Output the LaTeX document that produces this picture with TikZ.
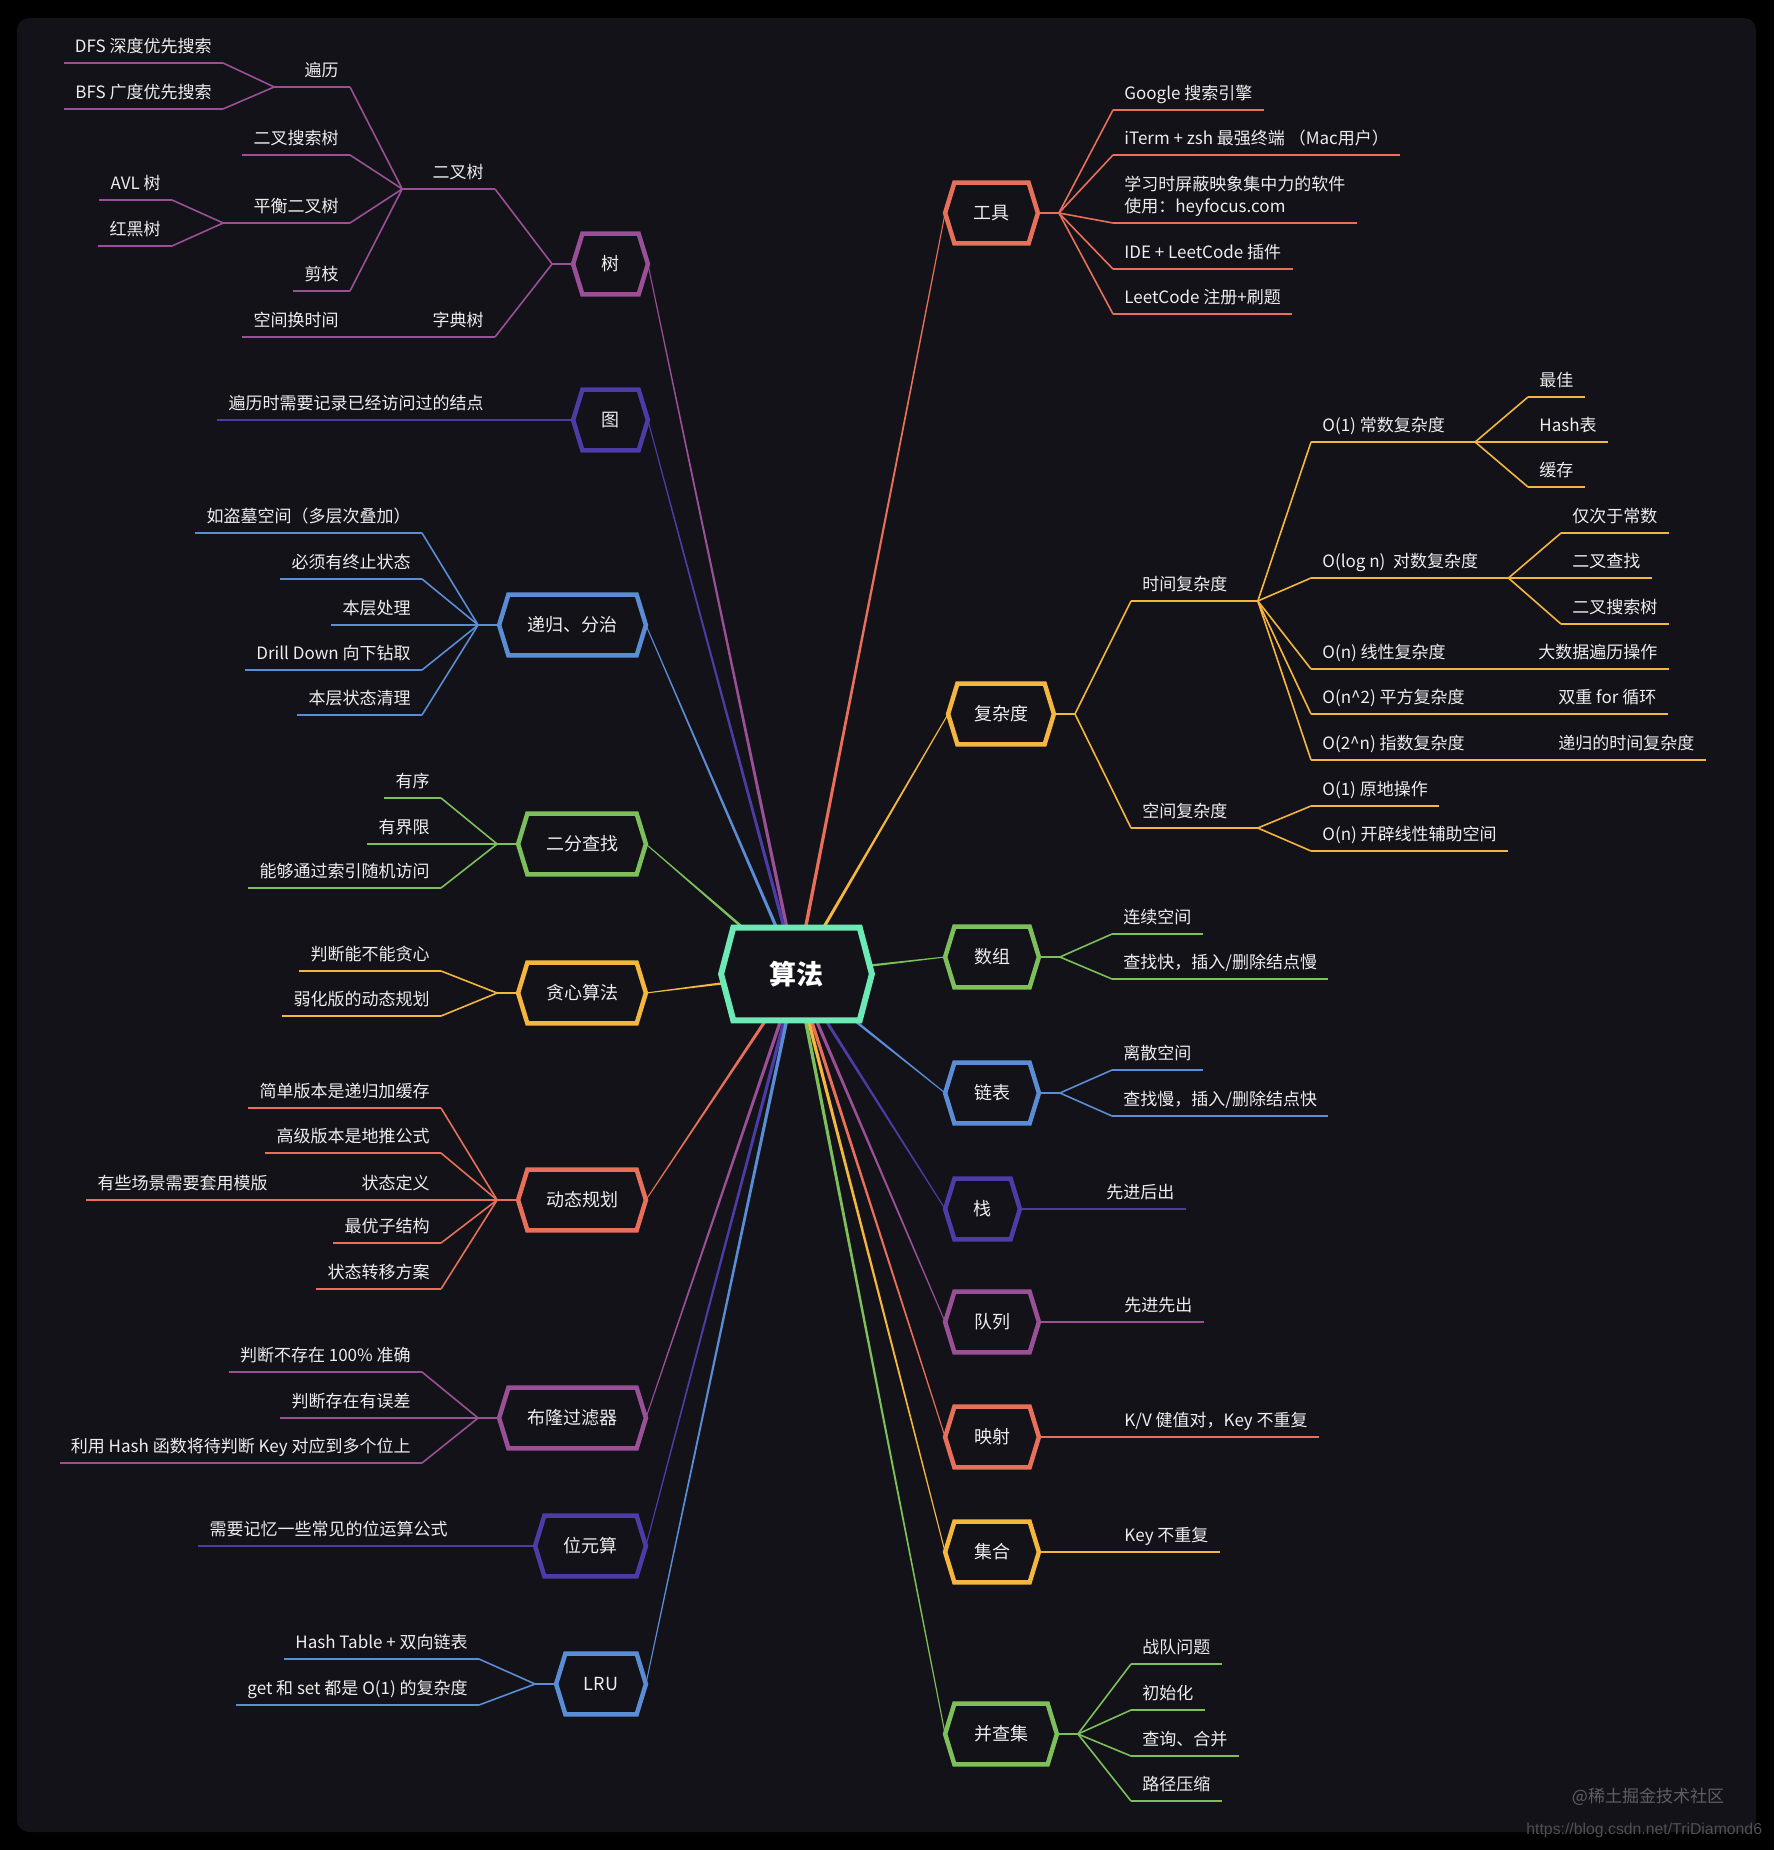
\documentclass[tikz,border=0pt]{standalone}
\usepackage{fontspec}
\setmainfont{Noto Sans CJK SC}
\newfontfamily\urlfont{Liberation Sans}
\usetikzlibrary{calc}
\pgfdeclarelayer{back}
\pgfdeclarelayer{bg}
\pgfdeclarelayer{mid}
\pgfsetlayers{back,bg,mid,main}
\definecolor{panel}{HTML}{131219}
\definecolor{cCoral}{HTML}{E8705A}
\definecolor{cYellow}{HTML}{F4B63F}
\definecolor{cGreen}{HTML}{7DC05B}
\definecolor{cBlue}{HTML}{5A8DD6}
\definecolor{cIndigo}{HTML}{4C3DA6}
\definecolor{cPurple}{HTML}{9A5097}
\definecolor{cMint}{HTML}{6DE9B6}
\definecolor{txtc}{HTML}{EDEDED}
\definecolor{wmc}{HTML}{5E5E66}
\definecolor{urlc}{HTML}{505050}
\tikzset{
  lbl/.style={font=\fontsize{8.5pt}{11pt}\selectfont, text=txtc, inner xsep=5.5pt, inner ysep=5.25pt, text height=6.5pt, text depth=0pt},
  hexlbl/.style={font=\fontsize{9pt}{11pt}\selectfont, text=txtc, inner sep=0pt, minimum height=30pt},
  ul/.style={line width=0.8pt},
}
\newcommand\labL[5]{\node[lbl,anchor=south east] (#1) at (#2,#3) {#5};\draw[#4,ul] (#1.south west) -- (#1.south east);}
\newcommand\labR[5]{\node[lbl,anchor=south west] (#1) at (#2,#3) {#5};\draw[#4,ul] (#1.south west) -- (#1.south east);}
\newcommand\hexn[6]{%
  \node[hexlbl, minimum width={(#4-2.5)*1pt}] (#1) at (#2,#3) {#6};
  \begin{pgfonlayer}{mid}
  \draw[#5, line width=2.25pt, fill=panel] (#1.west) -- ([xshift=4.65pt]#1.north west) -- ([xshift=-4.65pt]#1.north east) -- (#1.east) -- ([xshift=-4.65pt]#1.south east) -- ([xshift=4.65pt]#1.south west) -- cycle;
  \end{pgfonlayer}}
\newcommand\hL[3]{\begin{pgfonlayer}{bg}\draw[#1,ul] (#2.west) -- ++(-10.5pt,0) -- (#3.south east);\end{pgfonlayer}}
\newcommand\hR[3]{\begin{pgfonlayer}{bg}\draw[#1,ul] (#2.east) -- ++(10.5pt,0) -- (#3.south west);\end{pgfonlayer}}
\newcommand\cL[3]{\begin{pgfonlayer}{bg}\draw[#1,ul] (#2.south west) -- ++(-9.5pt,0) -- (#3.south east);\end{pgfonlayer}}
\newcommand\cR[3]{\begin{pgfonlayer}{bg}\draw[#1,ul] (#2.south east) -- ++(9.5pt,0) -- (#3.south west);\end{pgfonlayer}}
\newcommand\sL[3]{\begin{pgfonlayer}{bg}\draw[#1,ul] (#2.south west) -- (#3.south east);\end{pgfonlayer}}
\newcommand\sR[3]{\begin{pgfonlayer}{bg}\draw[#1,ul] (#2.south east) -- (#3.south west);\end{pgfonlayer}}
\newcommand\hsL[3]{\begin{pgfonlayer}{bg}\draw[#1,ul] (#2.west) -- (#3.south east);\end{pgfonlayer}}
\newcommand\hsR[3]{\begin{pgfonlayer}{bg}\draw[#1,ul] (#2.east) -- (#3.south west);\end{pgfonlayer}}
\newcommand\tp[2]{\begin{pgfonlayer}{bg}\fill[#1] ($(alg.center)!0.9pt!90:(#2)$) -- ($(#2)!0.25pt!-90:(alg.center)$) -- ($(#2)!0.25pt!90:(alg.center)$) -- ($(alg.center)!0.9pt!-90:(#2)$) -- cycle;\end{pgfonlayer}}
\begin{document}
\begin{tikzpicture}[x=0.5pt,y=-0.5pt]
\useasboundingbox (0,0) rectangle (1774,1850);
\begin{pgfonlayer}{back}
\fill[black] (0,0) rectangle (1774,1850);
\fill[panel, rounded corners=6pt] (17,18) rectangle (1756,1832);
\end{pgfonlayer}

% central node
\node[font=\fontsize{13.5pt}{16pt}\selectfont\bfseries, text=white, inner sep=0pt, minimum width=75pt, minimum height=46pt] (alg) at (796.5,974) {算法};
\begin{pgfonlayer}{mid}
\draw[cMint, line width=3pt, fill=panel] (alg.west) -- ([xshift=6.1pt]alg.north west) -- ([xshift=-6.1pt]alg.north east) -- (alg.east) -- ([xshift=-6.1pt]alg.south east) -- ([xshift=6.1pt]alg.south west) -- cycle;
\end{pgfonlayer}

% ---------- right side main nodes ----------
\hexn{tools}{991.5}{213}{48.5}{cCoral}{工具}
\hexn{cplx}{1001}{714}{55}{cYellow}{复杂度}
\hexn{arr}{992}{957}{49}{cGreen}{数组}
\hexn{ll}{992}{1093}{49}{cBlue}{链表}
\hexn{stk}{982.5}{1209}{39.5}{cIndigo}{栈}
\hexn{que}{992}{1322}{49}{cPurple}{队列}
\hexn{map}{992}{1437}{49}{cCoral}{映射}
\hexn{set}{992}{1552}{49}{cYellow}{集合}
\hexn{uf}{1001}{1734}{58}{cGreen}{并查集}

% ---------- left side main nodes ----------
\hexn{tree}{610.5}{264}{39.5}{cPurple}{树}
\hexn{graph}{610.5}{420}{39.5}{cIndigo}{图}
\hexn{rec}{572.5}{625}{75.5}{cBlue}{递归、分治}
\hexn{bin}{582}{844}{66}{cGreen}{二分查找}
\hexn{greedy}{582}{993}{66}{cYellow}{贪心算法}
\hexn{dp}{582}{1200}{66}{cCoral}{动态规划}
\hexn{bloom}{572.5}{1418}{75.5}{cPurple}{布隆过滤器}
\hexn{bit}{590.5}{1546}{57.5}{cIndigo}{位元算}
\hexn{lru}{601}{1684}{47}{cBlue}{LRU}

% ---------- tapered main branches ----------
\tp{cCoral}{tools.west}
\tp{cYellow}{cplx.west}
\tp{cGreen}{arr.west}
\tp{cBlue}{ll.west}
\tp{cIndigo}{stk.west}
\tp{cPurple}{que.west}
\tp{cCoral}{map.west}
\tp{cYellow}{set.west}
\tp{cGreen}{uf.west}
\tp{cPurple}{tree.east}
\tp{cIndigo}{graph.east}
\tp{cBlue}{rec.east}
\tp{cGreen}{bin.east}
\tp{cYellow}{greedy.east}
\tp{cCoral}{dp.east}
\tp{cPurple}{bloom.east}
\tp{cIndigo}{bit.east}
\tp{cBlue}{lru.east}

% ---------- tree ----------
\labL{bt}{495}{189}{cPurple}{二叉树}
\labL{zd}{495}{337}{cPurple}{字典树}
\labL{bl}{350}{87}{cPurple}{遍历}
\labL{bst}{350}{155}{cPurple}{二叉搜索树}
\labL{phb}{350}{223}{cPurple}{平衡二叉树}
\labL{jz}{350}{291}{cPurple}{剪枝}
\labL{kj}{350}{337}{cPurple}{空间换时间}
\labL{dfs}{223}{63}{cPurple}{DFS 深度优先搜索}
\labL{bfs}{223}{109}{cPurple}{BFS 广度优先搜索}
\labL{avl}{172}{200}{cPurple}{AVL 树}
\labL{rb}{172}{246}{cPurple}{红黑树}
\hL{cPurple}{tree}{bt}
\hL{cPurple}{tree}{zd}
\cL{cPurple}{bt}{bl}
\cL{cPurple}{bt}{bst}
\cL{cPurple}{bt}{phb}
\cL{cPurple}{bt}{jz}
\sL{cPurple}{zd}{kj}
\cL{cPurple}{bl}{dfs}
\cL{cPurple}{bl}{bfs}
\cL{cPurple}{phb}{avl}
\cL{cPurple}{phb}{rb}

% ---------- graph ----------
\labL{gr1}{495}{420}{cIndigo}{遍历时需要记录已经访问过的结点}
\hsL{cIndigo}{graph}{gr1}

% ---------- recursion ----------
\labL{r1}{422}{533}{cBlue}{如盗墓空间（多层次叠加）}
\labL{r2}{422}{579}{cBlue}{必须有终止状态}
\labL{r3}{422}{625}{cBlue}{本层处理}
\labL{r4}{422}{670}{cBlue}{Drill Down 向下钻取}
\labL{r5}{422}{715}{cBlue}{本层状态清理}
\hL{cBlue}{rec}{r1}
\hL{cBlue}{rec}{r2}
\hL{cBlue}{rec}{r3}
\hL{cBlue}{rec}{r4}
\hL{cBlue}{rec}{r5}

% ---------- binary search ----------
\labL{b1}{441}{798}{cGreen}{有序}
\labL{b2}{441}{844}{cGreen}{有界限}
\labL{b3}{441}{888}{cGreen}{能够通过索引随机访问}
\hL{cGreen}{bin}{b1}
\hL{cGreen}{bin}{b2}
\hL{cGreen}{bin}{b3}

% ---------- greedy ----------
\labL{gd1}{441}{971}{cYellow}{判断能不能贪心}
\labL{gd2}{441}{1016}{cYellow}{弱化版的动态规划}
\hL{cYellow}{greedy}{gd1}
\hL{cYellow}{greedy}{gd2}

% ---------- dynamic programming ----------
\labL{dp1}{441}{1108}{cCoral}{简单版本是递归加缓存}
\labL{dp2}{441}{1153}{cCoral}{高级版本是地推公式}
\labL{dp3}{441}{1200}{cCoral}{状态定义}
\labL{dp4}{441}{1243}{cCoral}{最优子结构}
\labL{dp5}{441}{1289}{cCoral}{状态转移方案}
\labL{dp31}{279}{1200}{cCoral}{有些场景需要套用模版}
\hL{cCoral}{dp}{dp1}
\hL{cCoral}{dp}{dp2}
\hL{cCoral}{dp}{dp3}
\hL{cCoral}{dp}{dp4}
\hL{cCoral}{dp}{dp5}
\sL{cCoral}{dp3}{dp31}

% ---------- bloom filter ----------
\labL{bf1}{422}{1372}{cPurple}{判断不存在 100\% 准确}
\labL{bf2}{422}{1418}{cPurple}{判断存在有误差}
\labL{bf3}{422}{1463}{cPurple}{利用 Hash 函数将待判断 Key 对应到多个位上}
\hL{cPurple}{bloom}{bf1}
\hL{cPurple}{bloom}{bf2}
\hL{cPurple}{bloom}{bf3}

% ---------- bit ----------
\labL{bit1}{459}{1546}{cIndigo}{需要记忆一些常见的位运算公式}
\hsL{cIndigo}{bit}{bit1}

% ---------- LRU ----------
\labL{lru1}{479}{1659}{cBlue}{Hash Table + 双向链表}
\labL{lru2}{479}{1705}{cBlue}{get 和 set 都是 O(1) 的复杂度}
\hL{cBlue}{lru}{lru1}
\hL{cBlue}{lru}{lru2}

% ---------- tools ----------
\labR{g1}{1113}{110}{cCoral}{Google 搜索引擎}
\labR{g2}{1113}{155}{cCoral}{iTerm + zsh 最强终端 （Mac用户）}
\node[lbl,anchor=south west] (g3) at (1113,223) {\vbox{\baselineskip=11pt\hbox{学习时屏蔽映象集中力的软件}\hbox{使用：heyfocus.com}}};
\draw[cCoral,ul] (g3.south west) -- (g3.south east);
\labR{g4}{1113}{269}{cCoral}{IDE + LeetCode 插件}
\labR{g5}{1113}{314}{cCoral}{LeetCode 注册+刷题}
\hR{cCoral}{tools}{g1}
\hR{cCoral}{tools}{g2}
\hR{cCoral}{tools}{g3}
\hR{cCoral}{tools}{g4}
\hR{cCoral}{tools}{g5}

% ---------- complexity ----------
\labR{tc}{1131}{601}{cYellow}{时间复杂度}
\labR{sc}{1131}{828}{cYellow}{空间复杂度}
\labR{o1}{1311}{442}{cYellow}{O(1) 常数复杂度}
\labR{olog}{1311}{578}{cYellow}{O(log n)\ \ 对数复杂度}
\labR{on}{1311}{669}{cYellow}{O(n) 线性复杂度}
\labR{on2}{1311}{714}{cYellow}{O(n\textasciicircum 2) 平方复杂度}
\labR{o2n}{1311}{760}{cYellow}{O(2\textasciicircum n) 指数复杂度}
\labR{best}{1528}{397}{cYellow}{最佳}
\labR{hasht}{1528}{442}{cYellow}{Hash表}
\labR{cache}{1528}{487}{cYellow}{缓存}
\labR{ci}{1561}{533}{cYellow}{仅次于常数}
\labR{bs}{1561}{578}{cYellow}{二叉查找}
\labR{bst2}{1561}{624}{cYellow}{二叉搜索树}
\labR{big}{1527}{669}{cYellow}{大数据遍历操作}
\labR{dbl}{1547}{714}{cYellow}{双重 for 循环}
\labR{recc}{1547}{760}{cYellow}{递归的时间复杂度}
\labR{so1}{1311}{806}{cYellow}{O(1) 原地操作}
\labR{son}{1311}{851}{cYellow}{O(n) 开辟线性辅助空间}
\hR{cYellow}{cplx}{tc}
\hR{cYellow}{cplx}{sc}
\cR{cYellow}{tc}{o1}
\cR{cYellow}{tc}{olog}
\cR{cYellow}{tc}{on}
\cR{cYellow}{tc}{on2}
\cR{cYellow}{tc}{o2n}
\cR{cYellow}{o1}{best}
\cR{cYellow}{o1}{hasht}
\cR{cYellow}{o1}{cache}
\cR{cYellow}{olog}{ci}
\cR{cYellow}{olog}{bs}
\cR{cYellow}{olog}{bst2}
\sR{cYellow}{on}{big}
\sR{cYellow}{on2}{dbl}
\sR{cYellow}{o2n}{recc}
\cR{cYellow}{sc}{so1}
\cR{cYellow}{sc}{son}

% ---------- array / list ----------
\labR{a1}{1112}{934}{cGreen}{连续空间}
\labR{a2}{1112}{979}{cGreen}{查找快，插入/删除结点慢}
\hR{cGreen}{arr}{a1}
\hR{cGreen}{arr}{a2}
\labR{l1}{1112}{1070}{cBlue}{离散空间}
\labR{l2}{1112}{1116}{cBlue}{查找慢，插入/删除结点快}
\hR{cBlue}{ll}{l1}
\hR{cBlue}{ll}{l2}

% ---------- stack, queue, map, set ----------
\labR{s1}{1095}{1209}{cIndigo}{先进后出}
\hsR{cIndigo}{stk}{s1}
\labR{q1}{1113}{1322}{cPurple}{先进先出}
\hsR{cPurple}{que}{q1}
\labR{m1}{1113}{1437}{cCoral}{K/V 健值对，Key 不重复}
\hsR{cCoral}{map}{m1}
\labR{st1}{1113}{1552}{cYellow}{Key 不重复}
\hsR{cYellow}{set}{st1}

% ---------- union find ----------
\labR{u1}{1131}{1664}{cGreen}{战队问题}
\labR{u2}{1131}{1710}{cGreen}{初始化}
\labR{u3}{1131}{1756}{cGreen}{查询、合并}
\labR{u4}{1131}{1801}{cGreen}{路径压缩}
\hR{cGreen}{uf}{u1}
\hR{cGreen}{uf}{u2}
\hR{cGreen}{uf}{u3}
\hR{cGreen}{uf}{u4}

% ---------- watermark ----------
\node[font=\fontsize{8.5pt}{10pt}\selectfont, text=wmc, inner sep=0pt] (wm1) at (1648,1797) {@稀土掘金技术社区};
\begin{scope}
\clip (1500,1805) rectangle (1774,1838);
\node[font=\urlfont\fontsize{7.9pt}{9pt}\selectfont, text=urlc, anchor=base west, inner sep=0pt] (wm2) at (1526,1834) {https://blog.csdn.net/TriDiamond6};
\end{scope}
\end{tikzpicture}
\end{document}
